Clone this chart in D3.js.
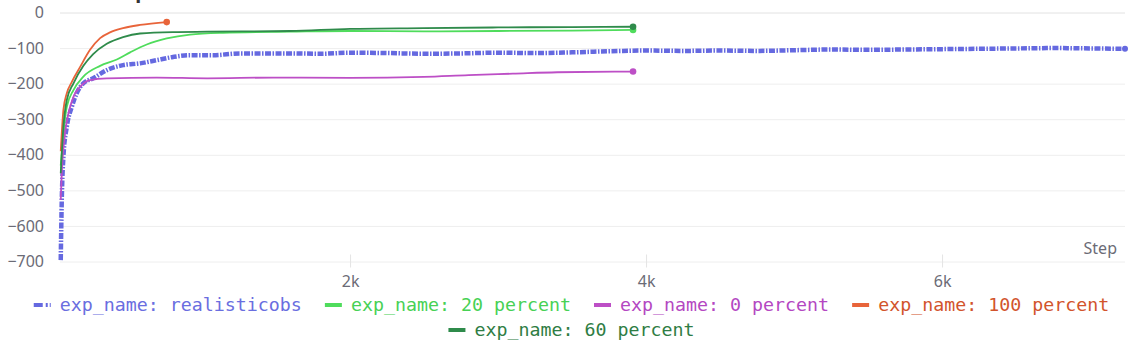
<!DOCTYPE html>
<head>
  <meta charset="utf-8">
  <script src="https://d3js.org/d3.v7.min.js"></script>
  <style>
body { margin: 0; background: #fff; }
.tick text { font-family: "Noto Sans", sans-serif; font-size: 16px; fill: #6b6b76; }
.legend text { font-family: "DejaVu Sans Mono", monospace; font-size: 18.3px; }
  </style>
</head>
<body>
<script>
// series: steps and values
var names = ["exp_name: realisticobs", "exp_name: 20 percent", "exp_name: 0 percent", "exp_name: 100 percent", "exp_name: 60 percent"];
var colors = ["#6569e0", "#4fdc5c", "#bd4fc6", "#e8643a", "#2f8b4b"];
var textColors = ["#6a6ee0", "#47d155", "#b447c2", "#d2542c", "#2f7d44"];

var stepsBlue = [45, 52, 63, 86, 120, 153, 198, 264, 356, 466, 581, 694, 804, 919, 1074, 1257, 1595, 1800, 2000, 2250, 2500, 2750, 3000, 3250, 3500, 3750, 4000, 4250, 4500, 4750, 5000, 5250, 5500, 5750, 6000, 6250, 6500, 6750, 7000, 7236];
var valuesBlue = [-696, -527, -406, -321, -265, -227, -199, -185, -162, -148, -143, -134, -125, -120, -120, -115, -115, -116, -113, -114, -116, -115, -113, -114, -112, -109, -107, -108, -107, -108, -106, -104, -105, -104, -103, -102, -101, -100, -101, -102];

var steps20 = [45, 63, 86, 131, 198, 311, 424, 514, 626, 761, 919, 1142, 1595, 2000, 2500, 3000, 3500, 3912];
var values20 = [-430, -340, -265, -218, -180, -150, -132, -112, -90, -73, -62, -57, -54, -52, -53, -52, -51, -49];

var steps0 = [45, 52, 74, 97, 131, 176, 243, 356, 694, 1034, 1480, 2000, 2500, 2800, 3100, 3400, 3912];
var values0 = [-527, -452, -340, -284, -237, -209, -190, -185, -183, -185, -183, -184, -181, -176, -172, -168, -166];

var steps100 = [45, 63, 86, 120, 176, 243, 311, 378, 466, 581, 761];
var values100 = [-390, -274, -227, -195, -153, -105, -72, -56, -44, -35, -27];

var steps60 = [45, 63, 86, 131, 198, 264, 356, 466, 581, 804, 1034, 1595, 2000, 2500, 3000, 3500, 3912];
var values60 = [-452, -321, -246, -199, -150, -117, -88, -69, -59, -55, -54, -52, -46, -44, -42, -41, -40];

var yTicks = [0, -100, -200, -300, -400, -500, -600, -700];
var xTicks = [2000, 4000, 6000];

var allSteps = [stepsBlue, steps20, steps0, steps100, steps60];
var allValues = [valuesBlue, values20, values0, values100, values60];

var W = 1139, H = 349;
var svg = d3.select("body").append("svg").attr("width", W).attr("height", H);

var x = d3.scaleLinear().domain([40, 7236]).range([60, 1125]);
var y = d3.scaleLinear().domain([-700, 0]).range([261.5, 12.5]);

// cut-off title at the very top
svg.append("text").attr("x", 124).attr("y", -2)
  .style("font-family", "Noto Sans").style("font-weight", 700).style("font-size", "20px")
  .attr("fill", "#333").text("Episode return");

// y grid + labels
var yAxis = svg.append("g").attr("transform", "translate(60,0)")
  .call(d3.axisLeft(y).tickValues(yTicks).tickSize(-1065).tickPadding(16).tickFormat(d3.format("d")));
yAxis.select(".domain").remove();
yAxis.selectAll(".tick line").attr("stroke", "#eeeeee");
yAxis.selectAll(".tick").filter(d => d === 0).select("line").attr("stroke", "#e2e2e2");

// x ticks
var xAxis = svg.append("g").attr("transform", "translate(0,261.5)")
  .call(d3.axisBottom(x).tickValues(xTicks).tickSize(0).tickPadding(14).tickFormat(d => d / 1000 + "k"));
xAxis.select(".domain").remove();
xAxis.selectAll(".tick").append("line").attr("y1", -7).attr("y2", 6).attr("stroke", "#e4e4e4");

svg.append("text").attr("x", 1117).attr("y", 254).attr("text-anchor", "end")
  .style("font-family", "Noto Sans").style("font-size", "16px").attr("fill", "#6b6b76").text("Step");

var line = d3.line().x(d => x(d[0])).y(d => y(d[1])).curve(d3.curveMonotoneX);

allSteps.forEach(function(st, i) {
  var pts = st.map((s, j) => [s, allValues[i][j]]);
  var p = svg.append("path").datum(pts).attr("d", line)
    .attr("fill", "none").attr("stroke", colors[i]);
  if (i === 0) {
    p.attr("stroke-width", 4.5).attr("stroke-dasharray", "6,1.5,1.5,1.5");
  } else {
    p.attr("stroke-width", 1.8);
  }
  var last = pts[pts.length - 1];
  svg.append("circle").attr("cx", x(last[0])).attr("cy", y(last[1]))
    .attr("r", i === 0 ? 3 : 3.3).attr("fill", colors[i]);
});

// legend
var rows = [[0, 1, 2, 3], [4]];
var rowY = [308, 333];
var legend = svg.append("g").attr("class", "legend");
rows.forEach(function(row, r) {
  var g = legend.append("g");
  var cx = 0;
  row.forEach(function(i) {
    var it = g.append("g").attr("transform", "translate(" + cx + ",0)");
    var ic = it.append("line").attr("x1", 0).attr("x2", 17).attr("y1", rowY[r] - 3).attr("y2", rowY[r] - 3)
      .attr("stroke", colors[i]).attr("stroke-width", 4);
    if (i === 0) ic.attr("stroke-dasharray", "9,3,2,2,2");
    var t = it.append("text").attr("x", 26).attr("y", rowY[r] + 3).attr("fill", textColors[i]).text(names[i]);
    cx += 26 + t.node().getComputedTextLength() + 23;
  });
  var w = cx - 23;
  g.attr("transform", "translate(" + ((W - w) / 2 + 2) + ",0)");
});
</script>
</body>
